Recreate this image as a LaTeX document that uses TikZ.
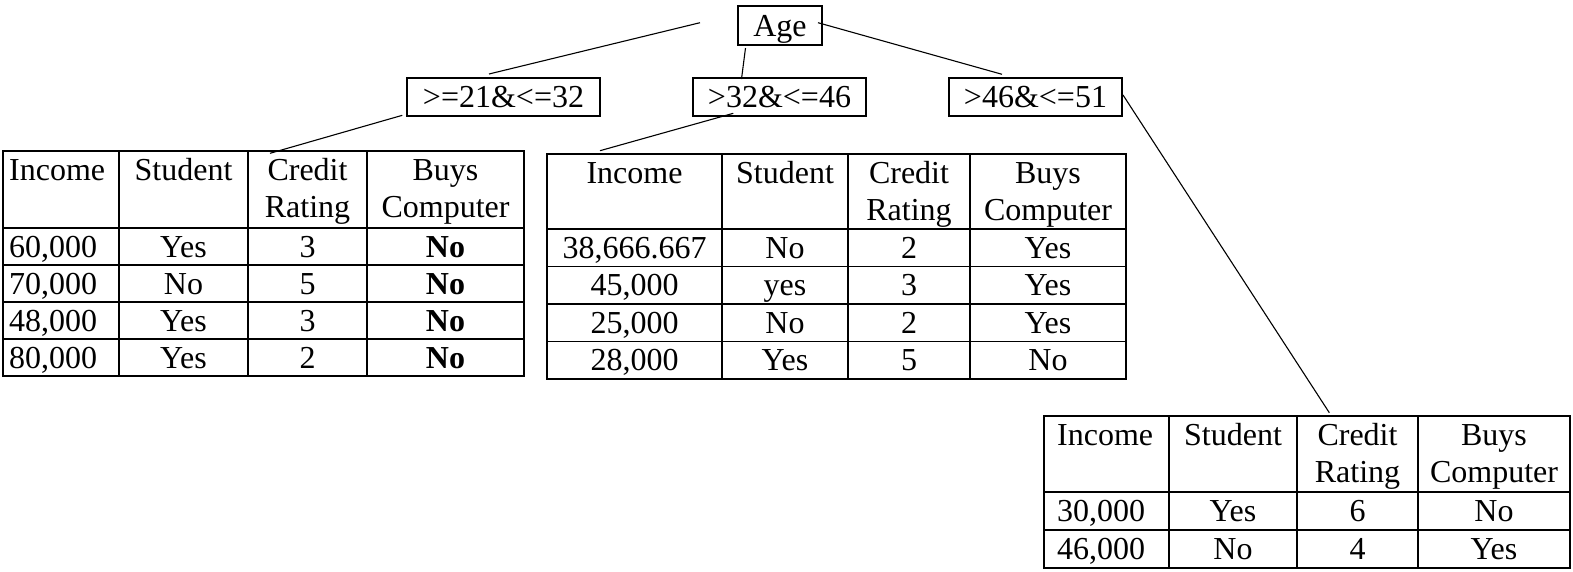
\documentclass[tikz,border=0pt]{standalone}
\usepackage{fontspec}
\setmainfont{Liberation Serif}
\begin{document}
\begin{tikzpicture}[x=1pt,y=-1pt,
  every node/.style={font=\fontsize{32}{37.5}\selectfont, inner sep=0pt},
  rangebox/.style={draw, line width=1.8pt, minimum height=38pt, text height=29pt, text depth=9pt},
  grid/.style={line width=1.7pt},
  link/.style={line width=1.1pt},
  cell/.style={anchor=base},
  lcell/.style={anchor=base west}]
\useasboundingbox (0,0) rectangle (1573,571);

% decision nodes
\node[rangebox, minimum width=84pt, minimum height=39pt, text height=30pt] (age) at (780,25.5) {Age};
\node[rangebox, minimum width=193pt] (r1) at (503.5,97) {>=21\&<=32};
\node[rangebox, minimum width=173pt] (r2) at (779.5,97) {>32\&<=46};
\node[rangebox, minimum width=173pt] (r3) at (1035.5,97) {>46\&<=51};

% table 1 grid
\draw[grid] (3,151) rectangle (524,376);
\foreach \x in {119,248,367} \draw[grid] (\x,151) -- (\x,376);
\foreach \y in {228,265,302,339} \draw[grid] (3,\y) -- (524,\y);
% table 1 text
\node[lcell] (t1h1) at (9,180) {Income};
\node[cell] (t1h2) at (183.5,180) {Student};
\node[cell] (t1h3) at (307.5,180) {Credit};
\node[cell] (t1h3b) at (307.5,217.5) {Rating};
\node[cell] (t1h4) at (445.5,180) {Buys};
\node[cell] (t1h4b) at (445.5,217.5) {Computer};
\node[lcell] (t1a1) at (9,257) {60,000};
\node[cell] (t1a2) at (183.5,257) {Yes};
\node[cell] (t1a3) at (307.5,257) {3};
\node[cell] (t1a4) at (445.5,257) {\textbf{No}};
\node[lcell] (t1b1) at (9,294) {70,000};
\node[cell] (t1b2) at (183.5,294) {No};
\node[cell] (t1b3) at (307.5,294) {5};
\node[cell] (t1b4) at (445.5,294) {\textbf{No}};
\node[lcell] (t1c1) at (9,331) {48,000};
\node[cell] (t1c2) at (183.5,331) {Yes};
\node[cell] (t1c3) at (307.5,331) {3};
\node[cell] (t1c4) at (445.5,331) {\textbf{No}};
\node[lcell] (t1d1) at (9,368) {80,000};
\node[cell] (t1d2) at (183.5,368) {Yes};
\node[cell] (t1d3) at (307.5,368) {2};
\node[cell] (t1d4) at (445.5,368) {\textbf{No}};

% table 2 grid
\draw[grid] (547,154) rectangle (1126,379);
\foreach \x in {722,848,970} \draw[grid] (\x,154) -- (\x,379);
\foreach \y in {229,266.5,304,341.5} \draw[grid] (547,\y) -- (1126,\y);
% table 2 text
\node[cell] (t2h1) at (634.5,183) {Income};
\node[cell] (t2h2) at (785,183) {Student};
\node[cell] (t2h3) at (909,183) {Credit};
\node[cell] (t2h3b) at (909,220.5) {Rating};
\node[cell] (t2h4) at (1048,183) {Buys};
\node[cell] (t2h4b) at (1048,220.5) {Computer};
\node[cell] (t2a1) at (634.5,258) {38,666.667};
\node[cell] (t2a2) at (785,258) {No};
\node[cell] (t2a3) at (909,258) {2};
\node[cell] (t2a4) at (1048,258) {Yes};
\node[cell] (t2b1) at (634.5,295.5) {45,000};
\node[cell] (t2b2) at (785,295.5) {yes};
\node[cell] (t2b3) at (909,295.5) {3};
\node[cell] (t2b4) at (1048,295.5) {Yes};
\node[cell] (t2c1) at (634.5,333) {25,000};
\node[cell] (t2c2) at (785,333) {No};
\node[cell] (t2c3) at (909,333) {2};
\node[cell] (t2c4) at (1048,333) {Yes};
\node[cell] (t2d1) at (634.5,370.5) {28,000};
\node[cell] (t2d2) at (785,370.5) {Yes};
\node[cell] (t2d3) at (909,370.5) {5};
\node[cell] (t2d4) at (1048,370.5) {No};

% table 3 grid
\draw[grid] (1044,416) rectangle (1570,568);
\foreach \x in {1169,1297,1418} \draw[grid] (\x,416) -- (\x,568);
\foreach \y in {492,530} \draw[grid] (1044,\y) -- (1570,\y);
% table 3 text
\node[lcell] (t3h1) at (1057,445) {Income};
\node[cell] (t3h2) at (1233,445) {Student};
\node[cell] (t3h3) at (1357.5,445) {Credit};
\node[cell] (t3h3b) at (1357.5,482.5) {Rating};
\node[cell] (t3h4) at (1494,445) {Buys};
\node[cell] (t3h4b) at (1494,482.5) {Computer};
\node[lcell] (t3a1) at (1057,521) {30,000};
\node[cell] (t3a2) at (1233,521) {Yes};
\node[cell] (t3a3) at (1357.5,521) {6};
\node[cell] (t3a4) at (1494,521) {No};
\node[lcell] (t3b1) at (1057,559) {46,000};
\node[cell] (t3b2) at (1233,559) {No};
\node[cell] (t3b3) at (1357.5,559) {4};
\node[cell] (t3b4) at (1494,559) {Yes};

% free ends of the branch lines
\coordinate (ageL) at (700,22.7);
\coordinate (r1top) at (489,74);
\coordinate (ageB) at (745.5,48);
\coordinate (r2top) at (741.5,79);
\coordinate (ageR) at (818,22.7);
\coordinate (r3top) at (1002,74.3);
\coordinate (r1foot) at (402.3,115.3);
\coordinate (t1top) at (270,153.3);
\coordinate (r2foot) at (733.3,113.3);
\coordinate (t2top) at (600,150.7);
\coordinate (r3side) at (1123,95);
\coordinate (t3top) at (1329.3,412.7);

% branches
\draw[link] (ageL) -- (r1top);
\draw[link] (ageB) -- (r2top);
\draw[link] (ageR) -- (r3top);
\draw[link] (r1foot) -- (t1top);
\draw[link] (r2foot) -- (t2top);
\draw[link] (r3side) -- (t3top);
\end{tikzpicture}
\end{document}
